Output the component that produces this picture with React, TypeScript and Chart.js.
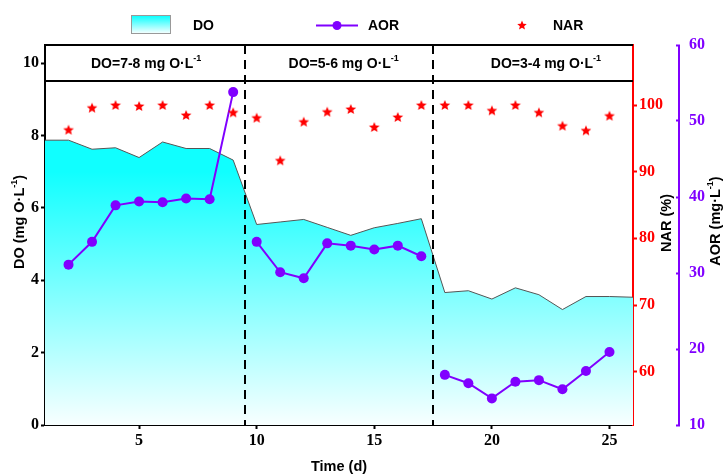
import React, { useEffect, useRef } from 'react';
import { Chart, registerables } from 'chart.js';

Chart.register(...registerables);

// ---- data ----
const DO_DAYS = [1, 2, 3, 4, 5, 6, 7, 8, 9, 10, 11, 12, 13, 14, 15, 16, 17, 18, 19, 20, 21, 22, 23, 24, 25, 26];
const DO_VALUES = [7.87, 7.87, 7.62, 7.66, 7.39, 7.82, 7.64, 7.64, 7.32, 5.54, 5.61, 5.68, 5.46, 5.24, 5.45, 5.57, 5.7, 3.66, 3.71, 3.48, 3.79, 3.6, 3.19, 3.55, 3.55, 3.53];

const AOR_DAYS = [2, 3, 4, 5, 6, 7, 8, 9, 10, 11, 12, 13, 14, 15, 16, 17, 18, 19, 20, 21, 22, 23, 24, 25];
const AOR_VALUES = [31.1, 34.1, 38.9, 39.4, 39.3, 39.8, 39.7, 53.8, 34.1, 30.1, 29.3, 33.9, 33.6, 33.1, 33.6, 32.2, 16.6, 15.5, 13.5, 15.7, 15.9, 14.7, 17.1, 19.6];

const NAR_DAYS = [2, 3, 4, 5, 6, 7, 8, 9, 10, 11, 12, 13, 14, 15, 16, 17, 18, 19, 20, 21, 22, 23, 24, 25];
const NAR_VALUES = [96.3, 99.6, 100.0, 99.85, 100.0, 98.5, 100.0, 98.9, 98.1, 91.7, 97.5, 99.0, 99.4, 96.7, 98.2, 100.0, 100.0, 100.0, 99.2, 100.0, 98.9, 96.9, 96.2, 98.4];

const PHASE_BOUNDS = [9.5, 17.5];
const PHASE_LABELS = ['DO=7-8 mg O·L', 'DO=5-6 mg O·L', 'DO=3-4 mg O·L'];
const PHASE_LABEL_X = [5.3, 13.7, 22.3];
const BAND_BOTTOM = 9.5;

const X_TICKS = [5, 10, 15, 20, 25];
const DO_TICKS = [0, 2, 4, 6, 8, 10];
const NAR_TICKS = [60, 70, 80, 90, 100];
const AOR_TICKS = [10, 20, 30, 40, 50, 60];

const RED = '#ff0000';
const PURPLE = '#8000ff';
const SANS = '"Liberation Sans", Arial, sans-serif';
const SERIF_FONT = { family: '"Liberation Serif", "Times New Roman", serif', weight: 'bold' as const, size: 16 };

function makeStar(outer: number, color: string) {
  const size = Math.ceil(outer * 2 + 2);
  const c = document.createElement('canvas');
  c.width = size;
  c.height = size;
  const ctx = c.getContext('2d')!;
  const cx = size / 2;
  const cy = size / 2 + outer * 0.1;
  const inner = outer * 0.45;
  ctx.beginPath();
  for (let i = 0; i < 10; i++) {
    const r = i % 2 === 0 ? outer : inner;
    const a = -Math.PI / 2 + (i * Math.PI) / 5;
    const px = cx + r * Math.cos(a);
    const py = cy + r * Math.sin(a);
    if (i === 0) ctx.moveTo(px, py);
    else ctx.lineTo(px, py);
  }
  ctx.closePath();
  ctx.fillStyle = color;
  ctx.fill();
  return c;
}

function withBreaks(days: number[], vals: number[]) {
  const out: { x: number; y: number | null }[] = [];
  days.forEach((d, i) => {
    if (i > 0) {
      const b = PHASE_BOUNDS.find((v) => v > days[i - 1] && v < d);
      if (b !== undefined) out.push({ x: b, y: null });
    }
    out.push({ x: d, y: vals[i] });
  });
  return out;
}

// draws main + superscript + tail centred at (x, y)
function drawSupText(ctx: CanvasRenderingContext2D, main: string, sup: string, tail: string, x: number, y: number, size: number) {
  const mainFont = `bold ${size}px ${SANS}`;
  const supFont = `bold ${Math.round(size * 0.62)}px ${SANS}`;
  ctx.font = mainFont;
  const wm = ctx.measureText(main).width;
  const wt = ctx.measureText(tail).width;
  ctx.font = supFont;
  const ws = ctx.measureText(sup).width;
  const total = wm + ws + wt;
  let x0 = x - total / 2;
  ctx.textAlign = 'left';
  ctx.textBaseline = 'middle';
  ctx.font = mainFont;
  ctx.fillText(main, x0, y);
  x0 += wm;
  ctx.font = supFont;
  ctx.fillText(sup, x0, y - size * 0.4);
  x0 += ws;
  ctx.font = mainFont;
  if (tail) ctx.fillText(tail, x0, y);
}

export default function App() {
  const ref = useRef<HTMLCanvasElement>(null);

  useEffect(() => {
    document.body.style.margin = '0';
    const canvas = ref.current!;
    const star = makeStar(5.6, RED);
    const legendStar = makeStar(5.0, RED);

    const decor = {
      id: 'decor',
      afterDatasetDraw(chart: any, args: any) {
        if (args.index !== 0) return;
        const { ctx, chartArea, scales } = chart;
        ctx.save();
        ctx.strokeStyle = '#000';
        ctx.lineWidth = 2;
        ctx.setLineDash([9, 6]);
        PHASE_BOUNDS.forEach((b) => {
          const x = Math.round(scales.x.getPixelForValue(b));
          ctx.beginPath();
          ctx.moveTo(x, chartArea.top);
          ctx.lineTo(x, chartArea.bottom);
          ctx.stroke();
        });
        ctx.restore();
      },
      afterDraw(chart: any) {
        const { ctx, chartArea, scales } = chart;
        ctx.save();
        // top border and band line
        ctx.strokeStyle = '#000';
        ctx.lineWidth = 2;
        const bandY = Math.round(scales.y.getPixelForValue(BAND_BOTTOM));
        ctx.beginPath();
        ctx.moveTo(chartArea.left, chartArea.top);
        ctx.lineTo(chartArea.right, chartArea.top);
        ctx.moveTo(chartArea.left, bandY);
        ctx.lineTo(chartArea.right, bandY);
        ctx.stroke();

        // band labels
        ctx.fillStyle = '#000';
        const labelY = (chartArea.top + bandY) / 2 + 1;
        PHASE_LABELS.forEach((t, i) => {
          drawSupText(ctx, t, '-1', '', scales.x.getPixelForValue(PHASE_LABEL_X[i]), labelY, 14);
        });

        // AOR axis line
        const ax = scales.yAOR.left + 3;
        ctx.strokeStyle = PURPLE;
        ctx.lineWidth = 2;
        ctx.beginPath();
        ctx.moveTo(ax, chartArea.top);
        ctx.lineTo(ax, chartArea.bottom);
        ctx.stroke();

        // axis titles
        const rot = (cx: number, cy: number, fn: () => void) => {
          ctx.save();
          ctx.translate(cx, cy);
          ctx.rotate(-Math.PI / 2);
          fn();
          ctx.restore();
        };
        ctx.fillStyle = '#000';
        rot(20, 222, () => drawSupText(ctx, 'DO (mg O·L', '-1', ')', 0, 0, 14.5));
        rot(667, 223, () => drawSupText(ctx, 'NAR (%)', '', '', 0, 0, 14.5));
        rot(716, 221, () => drawSupText(ctx, 'AOR (mg·L', '-1', ')', 0, 0, 14.5));
        ctx.font = `bold 14.5px ${SANS}`;
        ctx.textAlign = 'center';
        ctx.textBaseline = 'middle';
        ctx.fillText('Time (d)', (chartArea.left + chartArea.right) / 2, 467);

        // legend
        const g = ctx.createLinearGradient(0, 15, 0, 34);
        g.addColorStop(0, '#00ffff');
        g.addColorStop(1, '#ffffff');
        ctx.fillStyle = g;
        ctx.fillRect(131, 15, 40, 19);
        ctx.strokeStyle = '#999';
        ctx.lineWidth = 1;
        ctx.strokeRect(131.5, 15.5, 39, 18);
        ctx.fillStyle = '#000';
        ctx.font = `bold 14px ${SANS}`;
        ctx.textAlign = 'left';
        ctx.textBaseline = 'middle';
        ctx.fillText('DO', 193, 26.5);
        ctx.strokeStyle = PURPLE;
        ctx.lineWidth = 2;
        ctx.beginPath();
        ctx.moveTo(316, 25.5);
        ctx.lineTo(358, 25.5);
        ctx.stroke();
        ctx.fillStyle = PURPLE;
        ctx.beginPath();
        ctx.arc(337, 25.5, 4.5, 0, Math.PI * 2);
        ctx.fill();
        ctx.fillStyle = '#000';
        ctx.fillText('AOR', 368, 26.5);
        ctx.drawImage(legendStar, 522 - legendStar.width / 2, 25 - legendStar.height / 2);
        ctx.fillText('NAR', 553, 26.5);
        ctx.restore();
      },
    };

    const chart = new Chart(canvas, {
      type: 'line',
      data: {
        datasets: [
          {
            label: 'DO',
            data: DO_DAYS.map((d, i) => ({ x: d, y: DO_VALUES[i] })),
            yAxisID: 'y',
            order: 3,
            borderColor: '#555',
            borderWidth: 1,
            pointRadius: 0,
            tension: 0,
            fill: 'origin',
            backgroundColor: (c: any) => {
              const { chart: ch } = c;
              const { chartArea, scales } = ch;
              if (!chartArea) return 'rgba(0,255,255,0.6)';
              const y0 = scales.y.getPixelForValue(7);
              const y1 = scales.y.getPixelForValue(0);
              const g = ch.ctx.createLinearGradient(0, y0, 0, y1);
              g.addColorStop(0, '#10ffff');
              g.addColorStop(1, '#f8ffff');
              return g;
            },
          },
          {
            label: 'AOR',
            data: withBreaks(AOR_DAYS, AOR_VALUES),
            yAxisID: 'yAOR',
            order: 2,
            borderColor: PURPLE,
            borderWidth: 2,
            pointRadius: 5,
            pointBackgroundColor: PURPLE,
            pointBorderWidth: 0,
            tension: 0,
            fill: false,
            spanGaps: false,
          },
          {
            label: 'NAR',
            data: NAR_DAYS.map((d, i) => ({ x: d, y: NAR_VALUES[i] })),
            yAxisID: 'yNAR',
            order: 1,
            showLine: false,
            pointStyle: star as any,
            pointRadius: 6,
            fill: false,
          },
        ],
      },
      options: {
        responsive: false,
        animation: false,
        layout: { padding: { top: 45, left: 0, right: 0, bottom: 0 } },
        plugins: { legend: { display: false }, tooltip: { enabled: false } },
        scales: {
          x: {
            type: 'linear',
            position: 'bottom',
            min: 1,
            max: 26,
            afterBuildTicks: (s: any) => {
              s.ticks = X_TICKS.map((v) => ({ value: v }));
            },
            afterFit: (s: any) => {
              s.height = 49;
            },
            grid: { display: true, drawOnChartArea: false, drawTicks: true, tickLength: 4, tickColor: '#000', tickWidth: 2 },
            border: { display: true, color: '#000', width: 2 },
            ticks: { font: SERIF_FONT, color: '#000', padding: 2, maxRotation: 0, autoSkip: false },
          },
          y: {
            type: 'linear',
            position: 'left',
            min: 0,
            max: 10.5,
            afterBuildTicks: (s: any) => {
              s.ticks = DO_TICKS.map((v) => ({ value: v }));
            },
            afterFit: (s: any) => {
              s.width = 45;
            },
            grid: { display: true, drawOnChartArea: false, drawTicks: true, tickLength: 4, tickColor: '#000', tickWidth: 2 },
            border: { display: true, color: '#000', width: 2 },
            ticks: { font: SERIF_FONT, color: '#000', padding: 2, autoSkip: false },
          },
          yNAR: {
            type: 'linear',
            position: 'right',
            weight: 0,
            min: 52,
            max: 109,
            afterBuildTicks: (s: any) => {
              s.ticks = NAR_TICKS.map((v) => ({ value: v }));
            },
            afterFit: (s: any) => {
              s.width = 43;
            },
            grid: { display: true, drawOnChartArea: false, drawTicks: true, tickLength: 4, tickColor: RED, tickWidth: 2 },
            border: { display: true, color: RED, width: 2 },
            ticks: { font: SERIF_FONT, color: RED, padding: 2, autoSkip: false },
          },
          yAOR: {
            type: 'linear',
            position: 'right',
            weight: 1,
            min: 10,
            max: 60,
            afterBuildTicks: (s: any) => {
              s.ticks = AOR_TICKS.map((v) => ({ value: v }));
            },
            afterFit: (s: any) => {
              s.width = 47;
            },
            grid: { display: true, drawOnChartArea: false, drawTicks: true, tickLength: 4, tickColor: PURPLE, tickWidth: 2 },
            border: { display: false },
            ticks: { font: SERIF_FONT, color: PURPLE, padding: 9, autoSkip: false },
          },
        },
      },
      plugins: [decor],
    } as any);

    return () => chart.destroy();
  }, []);

  return <canvas ref={ref} width={723} height={474} style={{ display: 'block' }} />;
}
